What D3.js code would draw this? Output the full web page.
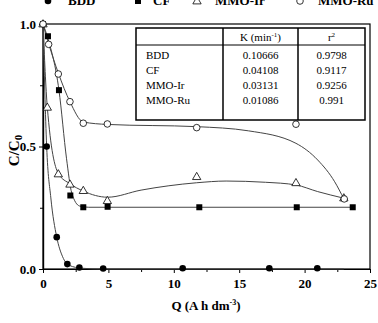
<!DOCTYPE html>
<html>
<head>
<meta charset="utf-8">
<script src="https://cdn.jsdelivr.net/npm/d3@7"></script>
<style>
  body { margin: 0; background: #fff; }
</style>
</head>
<body>
<script>
const width = 378, height = 323;
const margin = {top: 24, right: 8, bottom: 54, left: 43};
const serif = "'Liberation Serif', 'Times New Roman', 'DejaVu Serif', serif";

// measured points (Q, C/C0)
const bdd = [[0, 1.0], [0.28, 0.5], [1.05, 0.13], [1.86, 0.02], [2.78, 0.006], [4.6, 0.002], [10.68, 0.003], [17.3, 0.003], [20.97, 0.003]];
const cf = [[0, 1.0], [0.38, 0.95], [1.22, 0.73], [2.09, 0.30], [3.08, 0.252], [4.94, 0.254], [11.95, 0.252], [19.4, 0.252], [23.68, 0.252]];
const mmoIr = [[0, 1.0], [0.33, 0.66], [1.17, 0.388], [2.06, 0.346], [3.08, 0.32], [4.92, 0.279], [11.75, 0.377], [19.34, 0.352], [23.0, 0.29]];
const mmoRu = [[0, 1.0], [0.43, 0.917], [1.17, 0.796], [2.06, 0.683], [3.08, 0.595], [4.92, 0.592], [11.75, 0.577], [19.34, 0.591], [23.03, 0.286]];

// fitted curves
const bddFit = [[0, 1.0], [0.28, 0.5], [0.6, 0.29], [1.05, 0.13], [1.5, 0.05], [2.0, 0.015], [3.0, 0.003], [4.5, 0.0], [23, 0.0]];
const cfFit = [[0, 1.0], [0.38, 0.94], [1.22, 0.73], [1.8, 0.45], [2.2, 0.31], [2.8, 0.257], [3.5, 0.252], [23.68, 0.252]];
const irFit = [[0, 1.0], [0.33, 0.66], [1.17, 0.39], [2.06, 0.348], [3.08, 0.318], [4.94, 0.293], [7.5, 0.322], [11.75, 0.352], [14, 0.359], [17, 0.354], [19.34, 0.343], [21, 0.316], [23.0, 0.289]];
const ruFit = [[0, 1.0], [0.43, 0.92], [1.17, 0.8], [2.06, 0.683], [3.08, 0.6], [4.94, 0.59], [11.75, 0.581], [15.7, 0.564], [19.34, 0.513], [21, 0.445], [22.3, 0.356], [23.0, 0.286]];

const legendNames = ["BDD", "CF", "MMO-Ir", "MMO-Ru"];
const tableHead = ["", "K (min", "r"];
const tableK = ["0.10666", "0.04108", "0.03131", "0.01086"];
const tableR2 = ["0.9798", "0.9117", "0.9256", "0.991"];

const xTicks = [0, 5, 10, 15, 20, 25];
const yTicks = [0.0, 0.5, 1.0];

const svg = d3.select("body").append("svg")
  .attr("width", width).attr("height", height);

const x = d3.scaleLinear().domain([0, 25]).range([margin.left, width - margin.right]);
const y = d3.scaleLinear().domain([0, 1]).range([height - margin.bottom, margin.top]);

// frame
svg.append("rect")
  .attr("x", x(0)).attr("y", y(1))
  .attr("width", x(25) - x(0)).attr("height", y(0) - y(1))
  .attr("fill", "none").attr("stroke", "#000").attr("stroke-width", 1.2);

// axes
const xAxis = svg.append("g").attr("transform", `translate(0,${y(0)})`)
  .call(d3.axisBottom(x).tickValues(xTicks).tickFormat(d3.format("d")).tickSize(4).tickSizeOuter(0));
svg.append("g").attr("transform", `translate(0,${y(0)})`)
  .call(d3.axisBottom(x).tickValues(d3.range(2.5, 25, 5)).tickFormat("").tickSize(3).tickSizeOuter(0));
const yAxis = svg.append("g").attr("transform", `translate(${x(0)},0)`)
  .call(d3.axisLeft(y).tickValues(yTicks).tickFormat(d3.format(".1f")).tickSize(4).tickSizeOuter(0));
svg.append("g").attr("transform", `translate(${x(0)},0)`)
  .call(d3.axisLeft(y).tickValues([0.25, 0.75]).tickFormat("").tickSize(3).tickSizeOuter(0));

svg.selectAll(".domain").attr("stroke", "#000").attr("stroke-width", 1.2);
svg.selectAll(".tick line").attr("stroke", "#000");
xAxis.selectAll("text").attr("font-size", 13).attr("font-weight", "bold")
  .attr("fill", "#000").attr("dy", "0.9em");
yAxis.selectAll("text").attr("font-size", 13).attr("font-weight", "bold")
  .attr("fill", "#000");

// axis titles
const xt = svg.append("text").attr("x", 206).attr("y", 310)
  .attr("text-anchor", "middle").attr("font-size", 13).attr("font-weight", "bold");
xt.append("tspan").text("Q (A h dm");
xt.append("tspan").attr("font-size", 8).attr("dy", -5).text("-3");
xt.append("tspan").attr("dy", 5).text(")");

const yt = svg.append("text").attr("transform", `translate(19,${(y(0) + y(1)) / 2 + 4}) rotate(-90)`)
  .attr("text-anchor", "middle").attr("font-size", 15).attr("font-weight", "bold");
yt.append("tspan").text("C/C");
yt.append("tspan").attr("font-size", 11).attr("dy", 3).text("0");

// fitted curves
const line = d3.line().x(d => x(d[0])).y(d => y(d[1])).curve(d3.curveMonotoneX);
[bddFit, cfFit, irFit, ruFit].forEach(f => {
  svg.append("path").attr("d", line(f)).attr("fill", "none")
    .attr("stroke", "#444").attr("stroke-width", 1);
});

// markers
function marker(g, type, cx, cy) {
  if (type === "circleFill") {
    g.append("circle").attr("cx", cx).attr("cy", cy).attr("r", 3.3).attr("fill", "#000");
  } else if (type === "square") {
    g.append("rect").attr("x", cx - 3).attr("y", cy - 3).attr("width", 6).attr("height", 6).attr("fill", "#000");
  } else if (type === "triangle") {
    g.append("path").attr("d", d3.symbol().type(d3.symbolTriangle).size(30)())
      .attr("transform", `translate(${cx},${cy + 0.5})`)
      .attr("fill", "#fff").attr("stroke", "#000").attr("stroke-width", 0.8);
  } else {
    g.append("circle").attr("cx", cx).attr("cy", cy).attr("r", 3.3)
      .attr("fill", "#fff").attr("stroke", "#000").attr("stroke-width", 0.8);
  }
}
const series = [[bdd, "circleFill"], [cf, "square"], [mmoIr, "triangle"], [mmoRu, "circleOpen"]];
series.forEach(([data, type]) => {
  const g = svg.append("g");
  data.forEach(d => marker(g, type, x(d[0]), y(d[1])));
});

// legend (cut off at top of picture, as in the original)
const legX = [48, 138, 197, 300];
const legTextX = [68, 153, 215, 318];
legendNames.forEach((n, i) => {
  const g = svg.append("g");
  marker(g, series[i][1], legX[i], 1);
  svg.append("text").attr("x", legTextX[i]).attr("y", 5)
    .attr("font-size", 13).attr("font-weight", "bold").text(n);
});

// table
const tb = {x0: 136, x1: 365, y0: 28, y1: 120, c1: 223, c2: 298, h: 45};
const tg = svg.append("g");
tg.append("rect").attr("x", tb.x0).attr("y", tb.y0).attr("width", tb.x1 - tb.x0).attr("height", tb.y1 - tb.y0)
  .attr("fill", "#fff").attr("stroke", "#000").attr("stroke-width", 1.5);
[tb.c1, tb.c2].forEach(cx => tg.append("line").attr("x1", cx).attr("x2", cx).attr("y1", tb.y0).attr("y2", tb.y1)
  .attr("stroke", "#000").attr("stroke-width", 1.5));
tg.append("line").attr("x1", tb.x0).attr("x2", tb.x1).attr("y1", tb.h).attr("y2", tb.h)
  .attr("stroke", "#000").attr("stroke-width", 1);

const hk = tg.append("text").attr("x", (tb.c1 + tb.c2) / 2).attr("y", 41).attr("text-anchor", "middle").attr("font-size", 11);
hk.append("tspan").text(tableHead[1]);
hk.append("tspan").attr("font-size", 7).attr("dy", -4).text("-1");
hk.append("tspan").attr("dy", 4).text(")");
const hr = tg.append("text").attr("x", (tb.c2 + tb.x1) / 2).attr("y", 41).attr("text-anchor", "middle").attr("font-size", 11);
hr.append("tspan").text(tableHead[2]);
hr.append("tspan").attr("font-size", 7).attr("dy", -4).text("2");

legendNames.forEach((n, i) => {
  const by = 59 + i * 15;
  tg.append("text").attr("x", 146).attr("y", by).attr("font-size", 11).text(n);
  tg.append("text").attr("x", (tb.c1 + tb.c2) / 2).attr("y", by).attr("text-anchor", "middle").attr("font-size", 11).text(tableK[i]);
  tg.append("text").attr("x", (tb.c2 + tb.x1) / 2).attr("y", by).attr("text-anchor", "middle").attr("font-size", 11).text(tableR2[i]);
});

svg.selectAll("text").style("font-family", serif);
</script>
</body>
</html>
